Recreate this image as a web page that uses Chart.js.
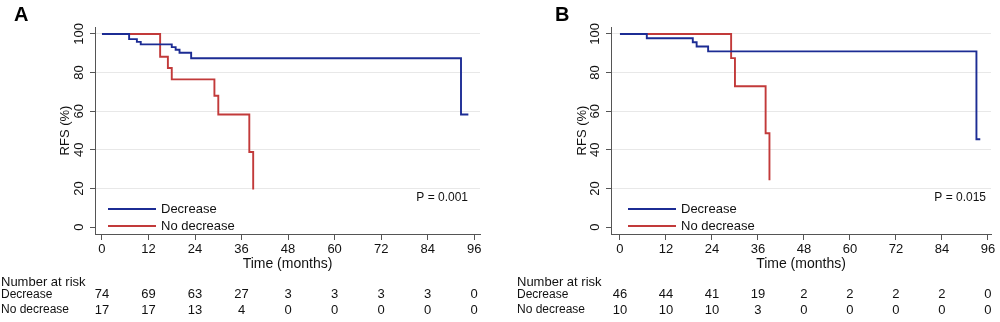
<!DOCTYPE html>
<html>
<head>
<meta charset="utf-8">
<script src="https://cdn.jsdelivr.net/npm/chart.js@4/dist/chart.umd.min.js"></script>
<style>
  html, body { margin: 0; padding: 0; background: #fff; }
  #wrap { position: relative; width: 1000px; height: 322px; }
  .panel { position: absolute; top: 0; width: 500px; height: 322px; }
</style>
</head>
<body>
<div id="wrap">
  <div class="panel" style="left:0"><canvas id="chartA" width="500" height="322"></canvas></div>
  <div class="panel" style="left:500px"><canvas id="chartB" width="500" height="322"></canvas></div>
</div>
<script>
const xTicks = [0, 12, 24, 36, 48, 60, 72, 84, 96];
const yTicks = [0, 20, 40, 60, 80, 100];
const groups = ["Decrease", "No decrease"];

// panel A
const timeA_dec = [0, 7, 9, 10, 18, 19, 20, 23, 92.6, 94.5];
const rfsA_dec = [100, 97.3, 95.9, 94.6, 93.2, 91.8, 90.3, 87.4, 58.3, 58.3];
const timeA_nod = [0, 15, 17, 18, 29, 30, 38, 39];
const rfsA_nod = [100, 88.2, 82.4, 76.5, 68.0, 58.3, 38.9, 19.4];
const riskA_dec = [74, 69, 63, 27, 3, 3, 3, 3, 0];
const riskA_nod = [17, 17, 13, 4, 0, 0, 0, 0, 0];
const pA = "P = 0.001";

// panel B
const timeB_dec = [0, 7, 19, 20, 23, 93, 94];
const rfsB_dec = [100, 97.8, 95.7, 93.5, 91.0, 45.5, 45.5];
const timeB_nod = [0, 29, 30, 38, 39];
const rfsB_nod = [100, 87.5, 72.9, 48.6, 24.3];
const riskB_dec = [46, 44, 41, 19, 2, 2, 2, 2, 0];
const riskB_nod = [10, 10, 10, 3, 0, 0, 0, 0, 0];
const pB = "P = 0.015";

const FONT = "'Liberation Sans', Arial, Helvetica, sans-serif";
const BLUE = "#1c2c94";
const RED = "#c23a3a";
const AXIS = "#555555";

const toPoints = (xs, ys) => xs.map((x, i) => ({ x: x, y: ys[i] }));

// legend, p value, panel letter and risk table
const extras = {
  id: "extras",
  afterDraw(chart, args, o) {
    const ctx = chart.ctx;
    const xs = chart.scales.x;
    ctx.save();
    ctx.textBaseline = "middle";

    // panel letter
    ctx.fillStyle = "#000";
    ctx.font = "bold 20px " + FONT;
    ctx.textAlign = "left";
    ctx.fillText(o.letter, o.letterX, 15);

    // legend
    const legY = [209, 226];
    chart.data.datasets.forEach((ds, i) => {
      ctx.strokeStyle = ds.borderColor;
      ctx.lineWidth = 2;
      ctx.beginPath();
      ctx.moveTo(o.legX0, legY[i]);
      ctx.lineTo(o.legX1, legY[i]);
      ctx.stroke();
      ctx.fillStyle = "#111";
      ctx.font = "13px " + FONT;
      ctx.fillText(ds.label, o.legX1 + 5, legY[i] + 0.5);
    });

    // p value
    ctx.font = "12px " + FONT;
    ctx.textAlign = "right";
    ctx.fillStyle = "#111";
    ctx.fillText(o.p, o.pX, 198);

    // number at risk
    ctx.textAlign = "left";
    ctx.font = "13px " + FONT;
    ctx.fillText("Number at risk", o.tableX, 282);
    ctx.font = "12px " + FONT;
    ctx.fillText(groups[0], o.tableX, 294.5);
    ctx.fillText(groups[1], o.tableX, 310);
    ctx.textAlign = "center";
    ctx.font = "13px " + FONT;
    xTicks.forEach((t, i) => {
      const px = xs.getPixelForValue(t);
      ctx.fillText(String(o.risk[0][i]), px, 294.5);
      ctx.fillText(String(o.risk[1][i]), px, 310);
    });
    ctx.restore();
  }
};

function makeChart(id, dec, nod, cfg) {
  return new Chart(document.getElementById(id), {
    type: "line",
    data: {
      datasets: [
        { label: groups[0], data: dec, borderColor: BLUE, borderWidth: 1.9, stepped: true, pointRadius: 0, fill: false },
        { label: groups[1], data: nod, borderColor: RED, borderWidth: 1.9, stepped: true, pointRadius: 0, fill: false }
      ]
    },
    options: {
      responsive: false,
      animation: false,
      devicePixelRatio: 1,
      layout: { padding: { left: cfg.padLeft, right: cfg.padRight, top: 27, bottom: 0 } },
      plugins: {
        legend: { display: false },
        tooltip: { enabled: false },
        extras: cfg.extras
      },
      scales: {
        x: {
          type: "linear",
          min: cfg.xMin,
          max: cfg.xMax,
          afterBuildTicks: (s) => { s.ticks = xTicks.map((v) => ({ value: v })); },
          afterFit: (s) => { s.height = 88; },
          grid: { drawOnChartArea: false, drawTicks: true, tickLength: 6, tickColor: AXIS },
          border: { display: true, color: AXIS, width: 1 },
          ticks: { font: { family: FONT, size: 13 }, color: "#111", padding: 2, maxRotation: 0, autoSkip: false },
          title: { display: true, text: "Time (months)", font: { family: FONT, size: 14 }, color: "#111", padding: { top: 0, bottom: 49.6 } }
        },
        y: {
          type: "linear",
          min: -3.6,
          max: 103.6,
          afterBuildTicks: (s) => { s.ticks = yTicks.map((v) => ({ value: v })); },
          afterFit: (s) => { s.width = 96; },
          grid: {
            drawOnChartArea: true,
            drawTicks: true,
            tickLength: 5,
            tickColor: AXIS,
            color: (c) => (c.tick && c.tick.value > 0 ? "#e8e8e8" : "rgba(0,0,0,0)")
          },
          border: { display: true, color: AXIS, width: 1 },
          ticks: { font: { family: FONT, size: 13 }, color: "#111", padding: 0, minRotation: 90, maxRotation: 90, crossAlign: "center", autoSkip: false },
          title: { display: true, text: "RFS (%)", font: { family: FONT, size: 13 }, color: "#111", padding: { top: cfg.yTitlePad, bottom: 0 } }
        }
      }
    },
    plugins: [extras]
  });
}

makeChart("chartA", toPoints(timeA_dec, rfsA_dec), toPoints(timeA_nod, rfsA_nod), {
  padLeft: -1, padRight: 20, xMin: -1.8, xMax: 97.5, yTitlePad: 58.2,
  extras: { letter: "A", letterX: 14, legX0: 108, legX1: 156, p: pA, pX: 468, tableX: 1, risk: [riskA_dec, riskA_nod] }
});

makeChart("chartB", toPoints(timeB_dec, rfsB_dec), toPoints(timeB_nod, rfsB_nod), {
  padLeft: 15, padRight: 9, xMin: -2.34, xMax: 96.8, yTitlePad: 59.2,
  extras: { letter: "B", letterX: 55, legX0: 128, legX1: 176, p: pB, pX: 486, tableX: 17, risk: [riskB_dec, riskB_nod] }
});
</script>
</body>
</html>
